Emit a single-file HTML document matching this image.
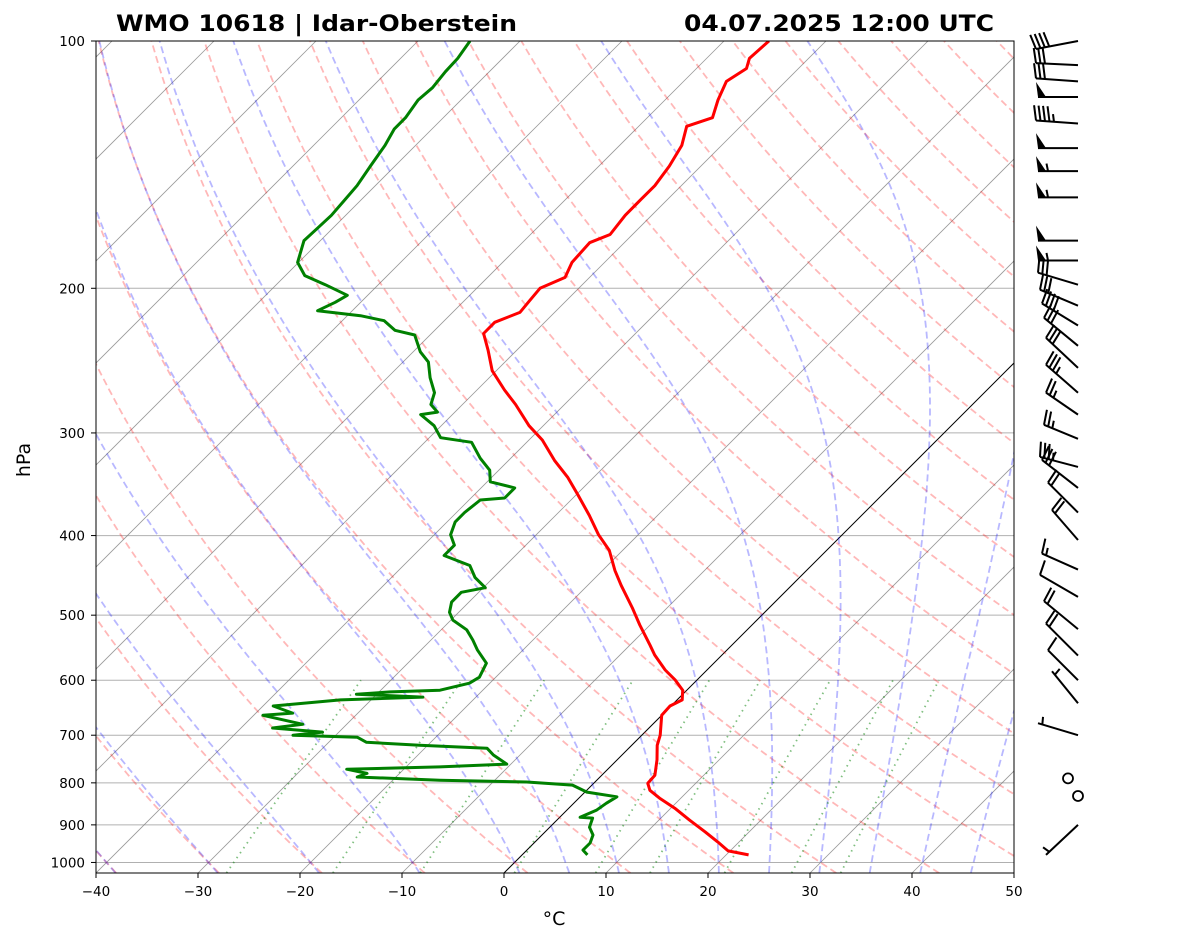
<!DOCTYPE html>
<html><head><meta charset="utf-8"><title>Skew-T WMO 10618</title>
<style>
html,body{margin:0;padding:0;background:#fff;}
svg{display:block;font-family:"DejaVu Sans","Liberation Sans",sans-serif;}
</style></head>
<body>
<svg id="chart" width="1181" height="941" viewBox="0 0 1181 941" xmlns="http://www.w3.org/2000/svg">
<defs><clipPath id="plotclip"><rect x="96" y="41" width="918" height="832"/></clipPath></defs>
<rect x="0" y="0" width="1181" height="941" fill="#fff"/>
<text x="116" y="31" font-size="22" font-weight="bold" textLength="401" lengthAdjust="spacingAndGlyphs">WMO 10618 | Idar-Oberstein</text>
<text x="994" y="31" font-size="22" font-weight="bold" text-anchor="end" textLength="310" lengthAdjust="spacingAndGlyphs">04.07.2025 12:00 UTC</text>
<g id="bg" clip-path="url(#plotclip)"></g>
<g id="series" clip-path="url(#plotclip)"></g>
<rect x="96" y="41" width="918" height="832" fill="none" stroke="#000" stroke-width="1"/>
<g id="axes"></g>
<g id="barbs"></g>
<text x="554" y="925" font-size="19" text-anchor="middle">°C</text>
<text x="30" y="460" font-size="19" text-anchor="middle" transform="rotate(-90 30 460)">hPa</text>
</svg>
<script>
const pressure = [979,968,944,918,888,859,835,817,801,783,750,720,700,662,645,634,617,600,583,559,544,514,490,460,441,417,399,378,357,340,324,306,294,277,266,252,238,227,220,214,207,200,194,186,176,172,163,156,150,142,134,127,124,118,112,108,105,100];
const temperature = [22.2,19.8,17.9,15.7,13.0,10.4,7.9,6.2,5.3,5.2,3.9,2.5,1.8,0.0,-0.1,0.5,-0.4,-2.1,-4.1,-6.6,-8.0,-11.0,-13.4,-16.7,-18.8,-21.3,-23.9,-26.7,-29.8,-32.5,-35.5,-38.7,-41.4,-44.8,-47.3,-50.4,-52.8,-54.9,-54.9,-53.4,-53.6,-53.8,-52.4,-53.2,-53.4,-52.2,-52.6,-52.6,-52.6,-53.1,-53.9,-55.3,-53.6,-54.8,-55.8,-55.1,-55.8,-55.6];
const dewPressure = [979,966,947,926,906,883,881,864,847,832,821,805,798,794,787,779,770,765,759,740,726,720,714,704,700,694,686,679,662,658,645,634,629,624,620,617,605,595,572,551,536,521,507,496,482,469,463,450,435,423,411,399,385,375,362,360,350,344,333,322,308,304,294,285,283,277,268,257,246,239,228,225,219,216,213,208,204,198,193,186,175,169,163,156,150,142,134,128,124,118,114,109,105,100];
const dewpoint = [6.4,5.5,5.5,5.0,3.9,3.3,2.0,2.9,3.2,3.6,0.2,-1.9,-6.7,-15.4,-23.8,-23.2,-25.6,-16.7,-10.4,-12.6,-13.9,-20.8,-26.3,-27.7,-34.2,-31.6,-36.9,-34.3,-39.1,-36.4,-39.0,-33.0,-25.2,-32.0,-28.9,-24.2,-22.0,-21.6,-22.3,-24.5,-25.9,-27.5,-29.8,-30.9,-31.7,-31.7,-29.8,-31.8,-33.5,-37.0,-37.0,-38.4,-39.2,-39.2,-38.9,-36.7,-36.7,-39.7,-40.9,-43.0,-45.4,-48.9,-50.7,-53.1,-51.7,-53.1,-53.9,-55.8,-57.5,-59.3,-61.5,-63.9,-65.9,-68.7,-73.4,-72.5,-72.0,-75.2,-78.1,-80.1,-81.6,-81.5,-81.4,-81.6,-81.8,-82.4,-83.0,-83.7,-83.7,-84.2,-84.0,-84.3,-84.4,-84.9];
const pressureTicks = [100,200,300,400,500,600,700,800,900,1000];
const tempTicks = [-40,-30,-20,-10,0,10,20,30,40,50];
const mixingRatios = [0.0004,0.001,0.002,0.004,0.007,0.01,0.016,0.024,0.032];
const barbPressure = [100,107,112,117,126,135,144,155,175,185,198,210,222,235,250,268,285,305,330,350,375,405,440,475,520,560,600,640,700,790,830,900];
const barbFlags = [0,0,0,1,0,1,1,1,1,1,0,0,0,0,0,0,0,0,0,0,0,0,0,0,0,0,0,0,0,0,0,0];
const barbFull =  [4,3,3,0,4,0,0,0,0,0,3,3,4,3,3,3,2,2,3,3,2,2,1,1,2,2,1,0,0,0,0,0];
const barbHalf =  [0,0,0,0,1,0,1,1,0,1,0,0,0,0,0,1,1,1,1,0,0,0,1,0,0,0,0,1,1,0,0,1];
const barbDx =    [-42,-42,-42,-40,-42,-40,-40,-40,-40,-40,-40,-38,-36,-34,-32,-32,-32,-34,-38,-36,-30,-26,-36,-38,-34,-32,-30,-26,-40,0,0,-32];
const barbDy =    [8,-2,-3,0,-3,0,0,0,0,0,-12,-16,-22,-28,-30,-28,-22,-14,-10,-28,-30,-30,-16,-22,-28,-32,-30,-32,-12,0,0,30];

const NS='http://www.w3.org/2000/svg';
const X0=96, Y0=41, YB=873, K=832/Math.log10(10.3);
function yP(p){return Y0+K*Math.log10(p/100);}
function xT(t,p){return X0+(t+40)*10.2+(YB-yP(p));}
function mk(tag,attrs,parent){const e=document.createElementNS(NS,tag);for(const k in attrs)e.setAttribute(k,attrs[k]);parent.appendChild(e);return e;}
function pathFrom(ts,ps){let d='';for(let i=0;i<ts.length;i++){d+=(i?'L':'M')+xT(ts[i],ps[i]).toFixed(1)+','+yP(ps[i]).toFixed(1);}return d;}
const bg=document.getElementById('bg'), ser=document.getElementById('series'), ax=document.getElementById('axes'), bb=document.getElementById('barbs');

for(const p of pressureTicks){
  const l=mk('line',{x1:96,x2:1014,y1:yP(p),y2:yP(p),stroke:'#b0b0b0','stroke-width':1},bg);
  
  
}
for(let t=-160;t<=50;t+=10){
  const l=mk('line',{x1:xT(t,1030),y1:yP(1030),x2:xT(t,100),y2:yP(100),stroke:t===0?'#000':'#808080','stroke-width':t===0?1:0.8,'stroke-opacity':t===0?1:0.8},bg);
  
  
}
const plevels=[];for(let p=1030;p>=100;p-=5)plevels.push(p);
for(let t0=-50;t0<=200;t0+=10){
  const th=t0+273.15;const ts=plevels.map(p=>th*Math.pow(p/1000,0.2857)-273.15);
  const e=mk('path',{d:pathFrom(ts,plevels),fill:'none',stroke:'#ff0000','stroke-opacity':0.28,'stroke-width':1.8,'stroke-dasharray':'7,4'},bg);
  
  
}
function es(t){return 6.112*Math.exp(17.67*t/(t+243.5));}
function dTdp(t,p){const T=t+273.15,rs=0.622*es(t)/(p-es(t)),Rd=287.04,Lv=2.501e6,cp=1005.7;
  return (Rd*T+Lv*rs)/(cp+Lv*Lv*rs*0.622/(Rd*T*T))/p;}
function moist(t0){const res={};let t=t0;res[1000]=t;
  for(let p=1000;p>100;p-=1){t-=dTdp(t,p)*1;res[p-1]=t;}
  t=t0;for(let p=1000;p<1030;p+=1){t+=dTdp(t,p)*1;res[p+1]=t;}
  return plevels.map(p=>res[p]);}
const moistStarts=[-50,-40,-30,-20,-10,0,5,10,15,20,25,30,35,40,45];
for(const t0 of moistStarts){
  const e=mk('path',{d:pathFrom(moist(t0),plevels),fill:'none',stroke:'#0000ff','stroke-opacity':0.28,'stroke-width':1.8,'stroke-dasharray':'7,4'},bg);
  
  
}
for(const w of mixingRatios){
  const ps=[];for(let p=1030;p>=600;p-=10)ps.push(p);
  const ts=ps.map(p=>{const e=w*p/(0.622+w);const l=Math.log(e/6.112);return 243.5*l/(17.67-l);});
  const e=mk('path',{d:pathFrom(ts,ps),fill:'none',stroke:'#008000','stroke-opacity':0.5,'stroke-width':1.8,'stroke-dasharray':'1.5,4.5'},bg);
  
  
}
const tl=mk('path',{d:pathFrom(temperature,pressure),fill:'none',stroke:'#ff0000','stroke-width':3,'stroke-linejoin':'round'},ser);


const dl=mk('path',{d:pathFrom(dewpoint,dewPressure),fill:'none',stroke:'#008000','stroke-width':3,'stroke-linejoin':'round'},ser);


for(const p of pressureTicks){
  const y=yP(p);
  const tk=mk('line',{x1:91,x2:96,y1:y,y2:y,stroke:'#000'},ax);
  
  
  const tx=mk('text',{x:85,y:y+5,'font-size':13.5,'text-anchor':'end'},ax);tx.textContent=p;
  
  
}
for(const t of tempTicks){
  const x=X0+(t+40)*10.2;
  const tk=mk('line',{x1:x,x2:x,y1:873,y2:878,stroke:'#000'},ax);
  
  
  const tx=mk('text',{x:x,y:896,'font-size':13.5,'text-anchor':'middle'},ax);tx.textContent=(t<0?'\u2212'+(-t):t);
  
  
}
for(let i=0;i<barbPressure.length;i++){
  const tipX=1078, tipY=yP(barbPressure[i]);
  const g=mk('g',{},bb);
  
  
  if(barbDx[i]===0){
    mk('circle',{cx:tipX-(i%2?10:0),cy:tipY,r:5,fill:'none',stroke:'#000','stroke-width':1.8},g);continue;
  }
  const tailX=tipX+barbDx[i], tailY=tipY+barbDy[i];
  mk('line',{x1:tipX,y1:tipY,x2:tailX,y2:tailY,stroke:'#000','stroke-width':2},g);
  const L=Math.hypot(barbDx[i],barbDy[i]);const ux=barbDx[i]/L, uy=barbDy[i]/L;
  let nx=uy, ny=-ux; if(ny>0||(ny===0&&nx>0)){nx=-nx;ny=-ny;}
  const bl=15;let pos=0;
  for(let f=0;f<barbFlags[i];f++){
    const ax1=tailX-ux*pos, ay1=tailY-uy*pos, ax2=tailX-ux*(pos+8), ay2=tailY-uy*(pos+8);
    mk('polygon',{points:`${ax1},${ay1} ${ax1+nx*bl+ux*2},${ay1+ny*bl+uy*2} ${ax2},${ay2}`,fill:'#000'},g);pos+=10;
  }
  for(let f=0;f<barbFull[i];f++){
    const bx=tailX-ux*pos, by=tailY-uy*pos;
    mk('line',{x1:bx,y1:by,x2:bx+nx*bl+ux*3,y2:by+ny*bl+uy*3,stroke:'#000','stroke-width':2},g);pos+=4.5;
  }
  if(barbHalf[i]){if(pos===0)pos=4.5;const bx=tailX-ux*pos, by=tailY-uy*pos;
    mk('line',{x1:bx,y1:by,x2:bx+nx*bl*0.5+ux*1.5,y2:by+ny*bl*0.5+uy*1.5,stroke:'#000','stroke-width':2},g);}
}
</script>
</body></html>
